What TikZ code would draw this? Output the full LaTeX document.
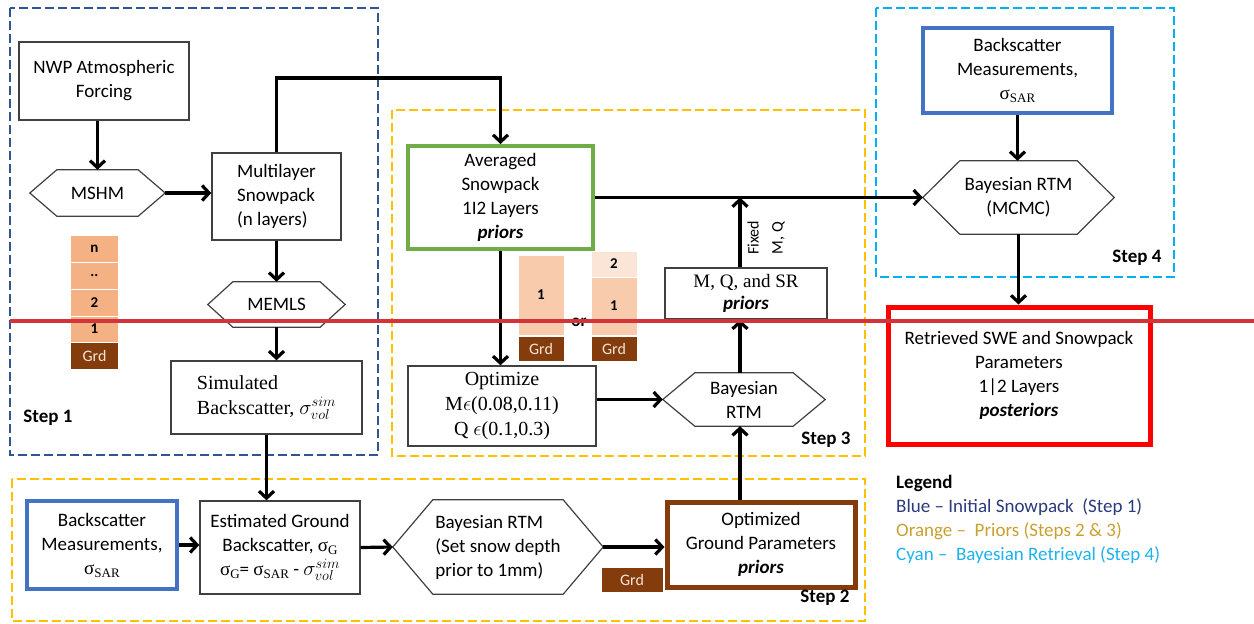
\documentclass[tikz,border=0pt]{standalone}
\usepackage{fontspec}
\setmainfont{Carlito}
\newfontfamily\serif{Liberation Serif}
\usetikzlibrary{arrows.meta,calc}

\definecolor{stepblue}{HTML}{2F5597}
\definecolor{steporange}{HTML}{FFC000}
\definecolor{stepcyan}{HTML}{00B0F0}
\definecolor{mblue}{HTML}{4472C4}
\definecolor{pgreen}{HTML}{70AD47}
\definecolor{grdbrown}{HTML}{843C0C}
\definecolor{redbox}{HTML}{FF0000}
\definecolor{redline}{HTML}{D2343A}
\definecolor{salmon}{HTML}{F4B183}
\definecolor{peach}{HTML}{F8CBAD}
\definecolor{lightpeach}{HTML}{FBE5D6}
\definecolor{edge}{HTML}{404040}
\definecolor{legblue}{HTML}{2B3A7A}
\definecolor{legorange}{HTML}{C9A030}
\definecolor{legcyan}{HTML}{1FB2EC}
\definecolor{grdtext}{HTML}{F4E4D8}

\newcommand\fs{\fontsize{19}{24}\selectfont}
\newcommand\fss{\serif\fontsize{20}{25}\selectfont}
\newcommand\sig[1]{{\serif σ\raisebox{-3pt}{\fontsize{13}{13}\selectfont #1}}}
\newcommand\pri[1]{\textbf{\textit{#1}}}
\newcommand\hexo[2]{\draw[hexline] (#1.west) -- ([xshift=#2]#1.north west) -- ([xshift=-#2]#1.north east) -- (#1.east) -- ([xshift=-#2]#1.south east) -- ([xshift=#2]#1.south west) -- cycle;}

\tikzset{
  box/.style={draw=edge, line width=1.4pt, rectangle, inner sep=0pt, align=center, font=\fs},
  sbox/.style={box, font=\fss},
  hexbox/.style={rectangle, inner sep=0pt, align=center, font=\fs},
  hexline/.style={draw=edge, line width=1.2pt},
  cell/.style={rectangle, draw=white, line width=1pt, inner sep=0pt, minimum width=48pt, font=\fontsize{15}{15}\selectfont\bfseries, text=black},
  grd/.style={cell, fill=grdbrown, text=grdtext, font=\fontsize{16}{16}\selectfont},
  arr/.style={line width=3.2pt, draw=black, -{Straight Barb[length=7pt,width=15pt]}},
  stepframe/.style={line width=2.6pt, dash pattern=on 9pt off 4pt},
  steplabel/.style={font=\fs\bfseries, inner sep=0pt},
}

\begin{document}
\begin{tikzpicture}[x=1pt,y=-1pt]
\useasboundingbox (0,0) rectangle (1254,624);

% step frames
\draw[stepframe, draw=stepblue] (10,8) rectangle (378,455);
\draw[stepframe, draw=steporange] (392,110) rectangle (865,456);
\draw[stepframe, draw=steporange] (12,479) rectangle (865,621);
\draw[stepframe, draw=stepcyan] (876,8) rectangle (1174,277);

% Step 1
\node[box, minimum width=170pt, minimum height=78pt] (nwp) at (104,81) {NWP Atmospheric\\Forcing};
\node[hexbox, minimum width=135pt, minimum height=46pt] (mshm) at (97.5,193) {MSHM};
\hexo{mshm}{27pt}
\node[box, align=left, minimum width=129pt, minimum height=87pt] (multi) at (276.5,196.5) {Multilayer\\Snowpack\\(n layers)};
\node[hexbox, minimum width=137pt, minimum height=45pt] (memls) at (276.5,304.5) {MEMLS};
\hexo{memls}{25pt}
\node[sbox, align=left, minimum width=191pt, minimum height=73pt] (sim) at (266.5,397.5) {Simulated\\Backscatter, $\sigma^{sim}_{vol}$};
\node[steplabel] (s1) at (48,418) {Step 1};

\node[cell, fill=salmon, minimum height=27pt] (n1) at (94.5,248.5) {n};
\node[cell, fill=salmon, minimum height=27pt] (n2) at (94.5,275.5) {..};
\node[cell, fill=salmon, minimum height=27pt] (n3) at (94.5,302.5) {2};
\node[cell, fill=salmon, minimum height=26pt] (n4) at (94.5,329) {1};
\node[grd, minimum height=27pt] (n5) at (94.5,355.5) {Grd};

% Step 3
\node[box, draw=pgreen, line width=4pt, minimum width=185pt, minimum height=103pt] (avg) at (500.5,197.5) {Averaged\\Snowpack\\1I2 Layers\\\pri{priors}};
\node[cell, fill=peach, minimum width=46pt, minimum height=80pt] (a1) at (541,295) {1};
\node[grd, minimum width=46pt, minimum height=25pt] (a0) at (541,348.5) {Grd};
\node[cell, fill=lightpeach, minimum width=46pt, minimum height=26pt] (b2) at (614,264) {2};
\node[cell, fill=peach, minimum width=46pt, minimum height=58pt] (b1) at (614,306) {1};
\node[grd, minimum width=46pt, minimum height=25pt] (b0) at (614,348.5) {Grd};
\node[font=\fontsize{17}{17}\selectfont\bfseries, inner sep=0pt] (ortext) at (579,322) {or};

\node[box, font=\fontsize{19}{22}\selectfont, minimum width=162pt, minimum height=51pt] (mq) at (746,293.5) {{\serif M, Q, and SR}\\\pri{priors}};
\node[sbox, minimum width=188pt, minimum height=80pt] (optz) at (502,406) {Optimize\\M$\epsilon$(0.08,0.11)\\Q $\epsilon$(0.1,0.3)};
\node[hexbox, minimum width=162pt, minimum height=53pt] (bay3) at (744,399.5) {Bayesian\\RTM};
\hexo{bay3}{32pt}
\node[steplabel] (s3) at (826,440) {Step 3};
\node[rotate=90, font=\fontsize{16}{24}\selectfont, align=center, inner sep=0pt] (fixed) at (766,238) {Fixed\\M, Q};

% Step 2
\node[box, draw=mblue, line width=4pt, minimum width=150pt, minimum height=88pt] (bsb) at (102,545) {Backscatter\\Measurements,\\\sig{SAR}};
\node[box, minimum width=160pt, minimum height=93pt] (est) at (280,547.5) {Estimated Ground\\Backscatter, \sig{G}\\\sig{G}= \sig{SAR} - {\fontsize{20}{24}\selectfont$\sigma^{sim}_{vol}$}};
\node[hexbox, align=left, minimum width=210pt, minimum height=94pt] (bay2) at (498,547) {Bayesian RTM\\(Set snow depth\\prior to 1mm)};
\hexo{bay2}{40pt}
\node[grd, minimum width=62pt, minimum height=25pt] (g2) at (632,579.5) {Grd};
\node[box, draw=grdbrown, line width=5pt, minimum width=188pt, minimum height=85pt] (opt2) at (761,544.5) {Optimized\\Ground Parameters\\\pri{priors}};
\node[steplabel] (s2) at (825,598) {Step 2};

% Step 4
\node[box, draw=mblue, line width=4pt, minimum width=189pt, minimum height=85pt] (bst) at (1017.5,70.5) {Backscatter\\Measurements,\\\sig{SAR}};
\node[hexbox, minimum width=191pt, minimum height=73pt] (mcmc) at (1018.5,197.5) {Bayesian RTM\\(MCMC)};
\hexo{mcmc}{37pt}
\node[steplabel] (s4) at (1137,258) {Step 4};
\node[box, draw=redbox, line width=5pt, minimum width=262pt, minimum height=137pt] (ret) at (1019,375.5) {Retrieved SWE and Snowpack\\Parameters\\1|2 Layers\\\pri{posteriors}};

% legend
\node[anchor=north west, align=left, inner sep=0pt, font=\fs] (legend) at (896,475) {\textbf{Legend}\\\textcolor{legblue}{Blue – Initial Snowpack\ \ (Step 1)}\\\textcolor{legorange}{Orange –\ \ Priors (Steps 2 \& 3)}\\\textcolor{legcyan}{Cyan –\ \ Bayesian Retrieval (Step 4)}};

% connectors
\coordinate (topbend) at (500.5,78);
\draw[arr] (mshm.north |- nwp.south) -- (mshm.north);
\draw[arr] (mshm.east) -- (mshm.east -| multi.west);
\draw[arr] (multi.south) -- (memls.north);
\draw[arr] (memls.south) -- (memls.south |- sim.north);
\draw[arr] (multi.north) |- (topbend) -- (avg.north);
\draw[arr] (sim.south) -- (sim.south |- est.north);
\draw[arr] (bsb.east) -- (bsb.east -| est.west);
\draw[arr] (est.east) -- (bay2.west);
\draw[arr] (bay2.east) -- (bay2.east -| opt2.west);
\draw[arr] ([xshift=-4pt]bay3.south |- opt2.north) -- ([xshift=-4pt]bay3.south);
\draw[arr] ([xshift=-4pt]bay3.north) -- ([xshift=-4pt]bay3.north |- mq.south);
\draw[arr] ([xshift=-6pt]mq.north) -- ([xshift=-6pt]mq.north |- avg.east);
\draw[arr] (avg.east) -- (mcmc.west);
\draw[arr] (avg.south) -- (avg.south |- optz.north);
\draw[arr] (bay3.west -| optz.east) -- (bay3.west);
\draw[arr] (bst.south) -- (bst.south |- mcmc.north);
\draw[arr] (mcmc.south) -- (mcmc.south |- ret.north);

% red overlay line
\draw[redline, line width=4pt] (10,321) -- (1254,321);
\end{tikzpicture}
\end{document}
